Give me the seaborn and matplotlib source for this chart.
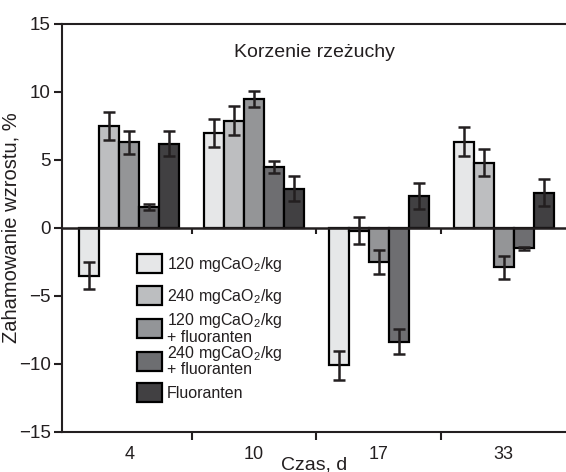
import matplotlib
matplotlib.use("Agg")
import matplotlib.pyplot as plt
from matplotlib.patches import Patch
import seaborn as sns
import pandas as pd

# ---- data ----
czas = ["4", "10", "17", "33"]
serie = [
    "120 mgCaO$_2$/kg",
    "240 mgCaO$_2$/kg",
    "120 mgCaO$_2$/kg\n+ fluoranten",
    "240 mgCaO$_2$/kg\n+ fluoranten",
    "Fluoranten",
]
v_120 = [-3.5, 7.0, -10.1, 6.35]
v_240 = [7.5, 7.9, -0.2, 4.8]
v_120f = [6.3, 9.5, -2.5, -2.9]
v_240f = [1.55, 4.5, -8.35, -1.5]
v_fl = [6.2, 2.9, 2.35, 2.6]

e_120 = [1.0, 1.05, 1.05, 1.05]
e_240 = [1.0, 1.07, 1.0, 0.98]
e_120f = [0.85, 0.6, 0.85, 0.85]
e_240f = [0.25, 0.43, 0.9, 0.12]
e_fl = [0.9, 0.93, 0.93, 0.98]

kolory = ["#e6e7e8", "#bcbec0", "#939598", "#6d6e71", "#414042"]
ink = "#231f20"

values = [v_120, v_240, v_120f, v_240f, v_fl]
errors = [e_120, e_240, e_120f, e_240f, e_fl]

rows = []
for s, vals in zip(serie, values):
    for c, v in zip(czas, vals):
        rows.append({"Czas": c, "Seria": s, "Wartosc": v})
df = pd.DataFrame(rows)

sns.set_style("ticks")
plt.rcParams["font.family"] = ["Liberation Sans", "DejaVu Sans"]
plt.rcParams["mathtext.fontset"] = "custom"
plt.rcParams["mathtext.rm"] = "Liberation Sans"
plt.rcParams["mathtext.it"] = "Liberation Sans:italic"
plt.rcParams["mathtext.bf"] = "Liberation Sans:bold"
plt.rcParams["text.color"] = ink
plt.rcParams["axes.labelcolor"] = ink
plt.rcParams["xtick.color"] = ink
plt.rcParams["ytick.color"] = ink

fig = plt.figure(figsize=(5.66, 4.72), dpi=100)
ax = fig.add_axes([62 / 566, 40 / 472, 504 / 566, 408 / 472])

sns.barplot(data=df, x="Czas", y="Wartosc", hue="Seria", order=czas,
            hue_order=serie, palette=kolory, errorbar=None, width=0.8,
            edgecolor="black", linewidth=1.6, legend=False, ax=ax, zorder=2)

for cont, errs in zip(ax.containers, errors):
    xs = [p.get_x() + p.get_width() / 2 for p in cont.patches]
    ys = [p.get_height() + p.get_y() if p.get_y() == 0 else p.get_y() for p in cont.patches]
    ax.errorbar(xs, ys, yerr=errs, fmt="none", ecolor=ink, elinewidth=1.8,
                capsize=4.5, capthick=1.8, zorder=4)

ax.axhline(0, color=ink, linewidth=1.8, zorder=3)
ax.vlines([0.5, 1.5, 2.5], -0.45, 0, color=ink, linewidth=1.5, zorder=3)

ax.set_xlim(-0.54, 3.5)
ax.set_ylim(-15, 15)
ax.set_yticks([-15, -10, -5, 0, 5, 10, 15])
ax.set_yticklabels(["\u221215", "\u221210", "\u22125", "0", "5", "10", "15"])
ax.set_xticks(range(len(czas)))
ax.set_xticklabels(czas)
ax.set_xticks([0.5, 1.5, 2.5], minor=True)
ax.tick_params(axis="x", which="major", length=0, labelsize=13, pad=10)
ax.tick_params(axis="x", which="minor", length=6, width=1.5, direction="out")
ax.tick_params(axis="y", length=6, width=1.5, labelsize=13.5, direction="out", pad=2)

for side in ["left", "bottom", "top"]:
    ax.spines[side].set_visible(True)
    ax.spines[side].set_linewidth(1.5)
    ax.spines[side].set_color(ink)
ax.spines["right"].set_visible(False)

ax.set_xlabel("Czas, d", fontsize=14)
ax.xaxis.set_label_coords(0.5, -0.06, transform=ax.transAxes)
ax.xaxis.label.set_va("top")
ax.set_ylabel("Zahamowanie wzrostu, %", fontsize=14.5)
ax.yaxis.set_label_coords(-0.082, 0.5)

ax.text(0.5, 0.93, "Korzenie rzeżuchy", transform=ax.transAxes,
        ha="center", va="center", fontsize=14)

# legend: one entry per row, rows placed at fixed vertical offsets
row_centres = [264.3, 296.3, 328.0, 360.5, 392.5]  # pixel rows of the reference legend
for i, (k, s) in enumerate(zip(kolory, serie)):
    h = Patch(facecolor=k, edgecolor="black", linewidth=1.6)
    leg = ax.legend([h], [s], loc="center left",
                    bbox_to_anchor=(0.149, (432 - row_centres[i]) / 408),
                    frameon=False, fontsize=11.5, handlelength=1.55, handleheight=1.42,
                    handletextpad=0.3, borderpad=0, borderaxespad=0)
    for t in leg.get_texts():
        t.set_linespacing(0.95)
    if i < len(serie) - 1:
        ax.add_artist(leg)

fig.savefig("out.png", dpi=100)
